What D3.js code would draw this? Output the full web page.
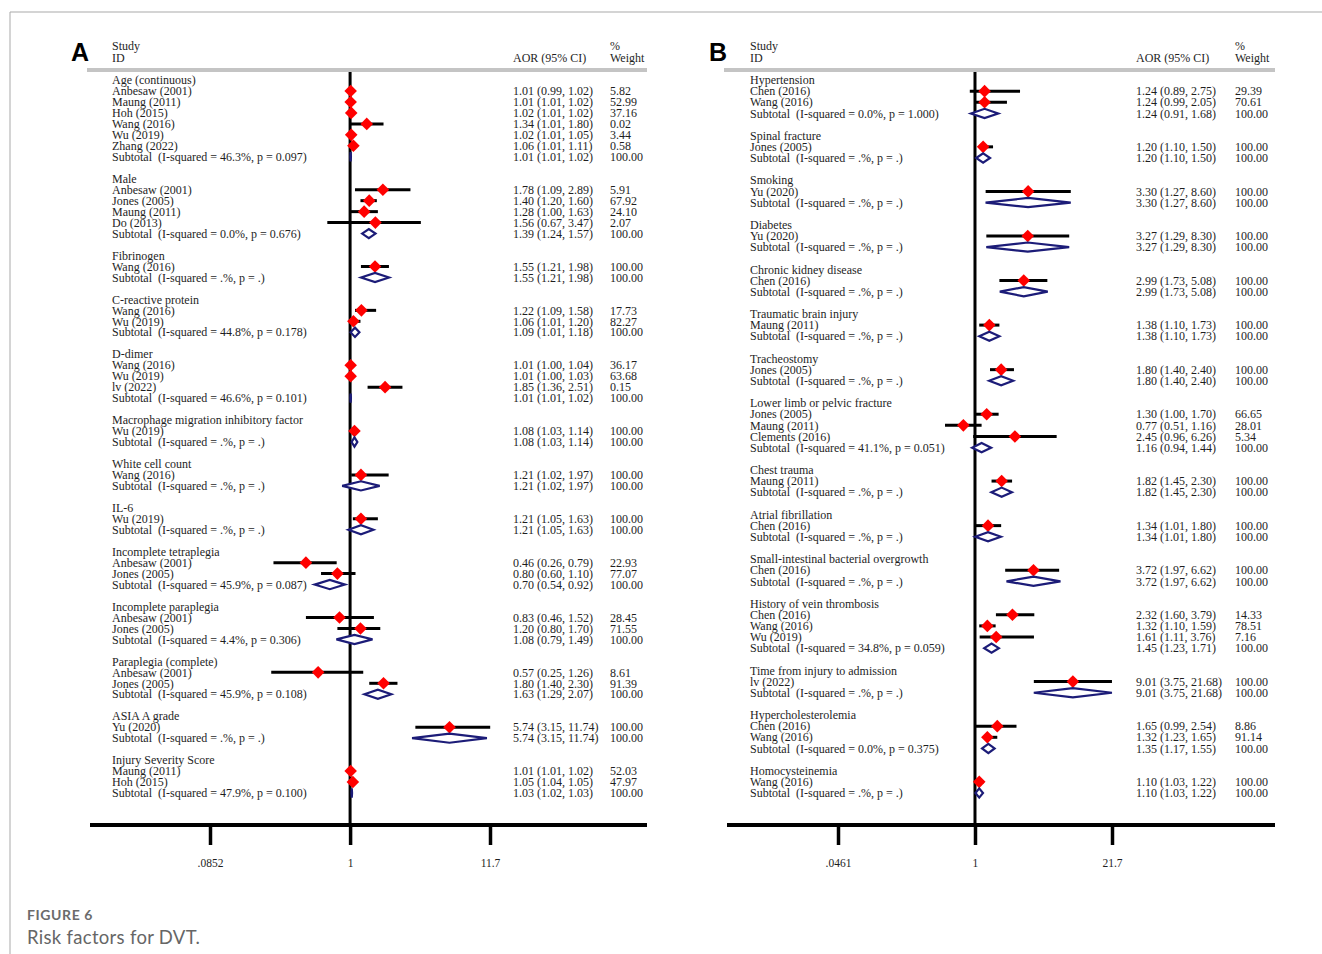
<!DOCTYPE html>
<html>
<head>
<meta charset="utf-8">
<script src="https://cdn.jsdelivr.net/npm/d3@7"></script>
<style>
  body { margin: 0; background: #fff; }
  svg text { white-space: pre; }
</style>
</head>
<body>
<div id="chart"></div>
<script>
// ---- panel A data ----
var groupsA = ["Age (continuous)", "Male", "Fibrinogen", "C-reactive protein", "D-dimer",
  "Macrophage migration inhibitory factor", "White cell count", "IL-6", "Incomplete tetraplegia",
  "Incomplete paraplegia", "Paraplegia (complete)", "ASIA A grade", "Injury Severity Score"];

// [study, AOR, lower, upper, weight]
var studiesA = [
  [["Anbesaw (2001)", 1.01, 0.99, 1.02, "5.82"], ["Maung (2011)", 1.01, 1.01, 1.02, "52.99"],
   ["Hoh (2015)", 1.02, 1.01, 1.02, "37.16"], ["Wang (2016)", 1.34, 1.01, 1.80, "0.02"],
   ["Wu (2019)", 1.02, 1.01, 1.05, "3.44"], ["Zhang (2022)", 1.06, 1.01, 1.11, "0.58"]],
  [["Anbesaw (2001)", 1.78, 1.09, 2.89, "5.91"], ["Jones (2005)", 1.40, 1.20, 1.60, "67.92"],
   ["Maung (2011)", 1.28, 1.00, 1.63, "24.10"], ["Do (2013)", 1.56, 0.67, 3.47, "2.07"]],
  [["Wang (2016)", 1.55, 1.21, 1.98, "100.00"]],
  [["Wang (2016)", 1.22, 1.09, 1.58, "17.73"], ["Wu (2019)", 1.06, 1.01, 1.20, "82.27"]],
  [["Wang (2016)", 1.01, 1.00, 1.04, "36.17"], ["Wu (2019)", 1.01, 1.00, 1.03, "63.68"],
   ["lv (2022)", 1.85, 1.36, 2.51, "0.15"]],
  [["Wu (2019)", 1.08, 1.03, 1.14, "100.00"]],
  [["Wang (2016)", 1.21, 1.02, 1.97, "100.00"]],
  [["Wu (2019)", 1.21, 1.05, 1.63, "100.00"]],
  [["Anbesaw (2001)", 0.46, 0.26, 0.79, "22.93"], ["Jones (2005)", 0.80, 0.60, 1.10, "77.07"]],
  [["Anbesaw (2001)", 0.83, 0.46, 1.52, "28.45"], ["Jones (2005)", 1.20, 0.80, 1.70, "71.55"]],
  [["Anbesaw (2001)", 0.57, 0.25, 1.26, "8.61"], ["Jones (2005)", 1.80, 1.40, 2.30, "91.39"]],
  [["Yu (2020)", 5.74, 3.15, 11.74, "100.00"]],
  [["Maung (2011)", 1.01, 1.01, 1.02, "52.03"], ["Hoh (2015)", 1.05, 1.04, 1.05, "47.97"]]
];

// [heterogeneity, AOR, lower, upper]
var subtotalsA = [
  ["46.3%, p = 0.097", 1.01, 1.01, 1.02],
  ["0.0%, p = 0.676", 1.39, 1.24, 1.57],
  [".%, p = .", 1.55, 1.21, 1.98],
  ["44.8%, p = 0.178", 1.09, 1.01, 1.18],
  ["46.6%, p = 0.101", 1.01, 1.01, 1.02],
  [".%, p = .", 1.08, 1.03, 1.14],
  [".%, p = .", 1.21, 1.02, 1.97],
  [".%, p = .", 1.21, 1.05, 1.63],
  ["45.9%, p = 0.087", 0.70, 0.54, 0.92],
  ["4.4%, p = 0.306", 1.08, 0.79, 1.49],
  ["45.9%, p = 0.108", 1.63, 1.29, 2.07],
  [".%, p = .", 5.74, 3.15, 11.74],
  ["47.9%, p = 0.100", 1.03, 1.02, 1.03]
];

var tickValuesA = [0.0852, 1, 11.7];
var tickLabelsA = [".0852", "1", "11.7"];

// ---- panel B data ----
var groupsB = ["Hypertension", "Spinal fracture", "Smoking", "Diabetes", "Chronic kidney disease",
  "Traumatic brain injury", "Tracheostomy", "Lower limb or pelvic fracture", "Chest trauma",
  "Atrial fibrillation", "Small-intestinal bacterial overgrowth", "History of vein thrombosis",
  "Time from injury to admission", "Hypercholesterolemia", "Homocysteinemia"];

var studiesB = [
  [["Chen (2016)", 1.24, 0.89, 2.75, "29.39"], ["Wang (2016)", 1.24, 0.99, 2.05, "70.61"]],
  [["Jones (2005)", 1.20, 1.10, 1.50, "100.00"]],
  [["Yu (2020)", 3.30, 1.27, 8.60, "100.00"]],
  [["Yu (2020)", 3.27, 1.29, 8.30, "100.00"]],
  [["Chen (2016)", 2.99, 1.73, 5.08, "100.00"]],
  [["Maung (2011)", 1.38, 1.10, 1.73, "100.00"]],
  [["Jones (2005)", 1.80, 1.40, 2.40, "100.00"]],
  [["Jones (2005)", 1.30, 1.00, 1.70, "66.65"], ["Maung (2011)", 0.77, 0.51, 1.16, "28.01"],
   ["Clements (2016)", 2.45, 0.96, 6.26, "5.34"]],
  [["Maung (2011)", 1.82, 1.45, 2.30, "100.00"]],
  [["Chen (2016)", 1.34, 1.01, 1.80, "100.00"]],
  [["Chen (2016)", 3.72, 1.97, 6.62, "100.00"]],
  [["Chen (2016)", 2.32, 1.60, 3.79, "14.33"], ["Wang (2016)", 1.32, 1.10, 1.59, "78.51"],
   ["Wu (2019)", 1.61, 1.11, 3.76, "7.16"]],
  [["lv (2022)", 9.01, 3.75, 21.68, "100.00"]],
  [["Chen (2016)", 1.65, 0.99, 2.54, "8.86"], ["Wang (2016)", 1.32, 1.23, 1.65, "91.14"]],
  [["Wang (2016)", 1.10, 1.03, 1.22, "100.00"]]
];

var subtotalsB = [
  ["0.0%, p = 1.000", 1.24, 0.91, 1.68],
  [".%, p = .", 1.20, 1.10, 1.50],
  [".%, p = .", 3.30, 1.27, 8.60],
  [".%, p = .", 3.27, 1.29, 8.30],
  [".%, p = .", 2.99, 1.73, 5.08],
  [".%, p = .", 1.38, 1.10, 1.73],
  [".%, p = .", 1.80, 1.40, 2.40],
  ["41.1%, p = 0.051", 1.16, 0.94, 1.44],
  [".%, p = .", 1.82, 1.45, 2.30],
  [".%, p = .", 1.34, 1.01, 1.80],
  [".%, p = .", 3.72, 1.97, 6.62],
  ["34.8%, p = 0.059", 1.45, 1.23, 1.71],
  [".%, p = .", 9.01, 3.75, 21.68],
  ["0.0%, p = 0.375", 1.35, 1.17, 1.55],
  [".%, p = .", 1.10, 1.03, 1.22]
];

var tickValuesB = [0.0461, 1, 21.7];
var tickLabelsB = [".0461", "1", "21.7"];

var width = 1322, height = 954;
var serif = "'Liberation Serif', 'Times New Roman', serif";
var textColor = "#1e1e1e";

var svg = d3.select("#chart").append("svg")
  .attr("width", width)
  .attr("height", height);

// frame
svg.append("line").attr("x1", 10).attr("y1", 12).attr("x2", width).attr("y2", 12)
  .attr("stroke", "#a9a9a9").attr("stroke-width", 1);
svg.append("line").attr("x1", 10).attr("y1", 12).attr("x2", 10).attr("y2", height)
  .attr("stroke", "#a9a9a9").attr("stroke-width", 1);

function fmt(v) { return v.toFixed(2); }

function drawPanel(p) {
  var g = svg.append("g");

  // build rows
  var rows = [], r = 0;
  p.groups.forEach(function(name, gi) {
    rows.push({type: "head", text: name, r: r++});
    p.studies[gi].forEach(function(s) {
      rows.push({type: "study", text: s[0], or: s[1], lo: s[2], hi: s[3], w: s[4], r: r++});
    });
    var sb = p.subs[gi];
    rows.push({type: "sub", text: "Subtotal  (I-squared = " + sb[0] + ")", or: sb[1], lo: sb[2], hi: sb[3], w: "100.00", r: r++});
    r++;
  });
  var lastRow = r - 2;

  var x = d3.scaleLog().domain([p.ticks[0], p.ticks[2]]).range(p.tickRange);
  var y = d3.scaleLinear().domain([0, lastRow]).range([80, 793]);

  // panel letter
  g.append("text").attr("x", p.letterX).attr("y", 61)
    .attr("font-family", "Arial, 'Liberation Sans', sans-serif").attr("font-weight", "bold")
    .attr("font-size", 25).attr("fill", "#000").text(p.letter);

  // header
  var hdr = g.append("g").attr("font-family", serif).attr("font-size", 12).attr("fill", textColor);
  hdr.append("text").attr("x", p.textX).attr("y", 50).text("Study");
  hdr.append("text").attr("x", p.textX).attr("y", 62).text("ID");
  hdr.append("text").attr("x", p.ciX).attr("y", 62).text("AOR (95% CI)");
  hdr.append("text").attr("x", p.wX).attr("y", 50).text("%");
  hdr.append("text").attr("x", p.wX).attr("y", 62).text("Weight");

  g.append("line").attr("x1", p.lineX0).attr("x2", p.lineX1).attr("y1", 70).attr("y2", 70)
    .attr("stroke", "#c4c4c4").attr("stroke-width", 4);

  // null line
  g.append("line").attr("x1", x(1)).attr("x2", x(1)).attr("y1", 72).attr("y2", 825)
    .attr("stroke", "#000").attr("stroke-width", 3);

  // axis line + ticks
  g.append("line").attr("x1", p.lineX0 + 3).attr("x2", p.lineX1).attr("y1", 825).attr("y2", 825)
    .attr("stroke", "#000").attr("stroke-width", 4);

  var axis = g.append("g").attr("transform", "translate(0,826)")
    .call(d3.axisBottom(x).tickValues(p.ticks)
      .tickFormat(function(d, i) { return p.tickLabels[i]; })
      .tickSize(19).tickPadding(14));
  axis.select(".domain").remove();
  axis.selectAll(".tick line").attr("stroke", "#000").attr("stroke-width", 3.5);
  axis.selectAll(".tick text").attr("font-family", serif).attr("font-size", 11.5)
    .attr("fill", textColor);

  // row texts
  var txt = g.append("g").attr("font-family", serif).attr("font-size", 12).attr("fill", textColor);
  txt.selectAll(".lab").data(rows).enter().append("text")
    .attr("x", p.textX).attr("y", function(d) { return y(d.r); }).attr("dy", "0.35em")
    .text(function(d) { return d.text; });
  var valRows = rows.filter(function(d) { return d.type !== "head"; });
  txt.selectAll(".ci").data(valRows).enter().append("text")
    .attr("x", p.ciX).attr("y", function(d) { return y(d.r); }).attr("dy", "0.35em")
    .text(function(d) { return fmt(d.or) + " (" + fmt(d.lo) + ", " + fmt(d.hi) + ")"; });
  txt.selectAll(".wt").data(valRows).enter().append("text")
    .attr("x", p.wX).attr("y", function(d) { return y(d.r); }).attr("dy", "0.35em")
    .text(function(d) { return d.w; });

  // study CIs and markers
  var studyRows = rows.filter(function(d) { return d.type === "study"; });
  g.selectAll(".cil").data(studyRows).enter().append("line")
    .attr("x1", function(d) { return x(d.lo); }).attr("x2", function(d) { return x(d.hi); })
    .attr("y1", function(d) { return y(d.r); }).attr("y2", function(d) { return y(d.r); })
    .attr("stroke", "#000").attr("stroke-width", 3);
  var m = 6.3;
  g.selectAll(".pt").data(studyRows).enter().append("path")
    .attr("d", function(d) {
      var cx = x(d.or), cy = y(d.r);
      return "M" + (cx - m) + "," + cy + "L" + cx + "," + (cy - m) + "L" + (cx + m) + "," + cy + "L" + cx + "," + (cy + m) + "Z";
    })
    .attr("fill", "#ff0000");

  // subtotal diamonds (symmetric on the log scale)
  var subRows = rows.filter(function(d) { return d.type === "sub"; });
  g.selectAll(".dm").data(subRows).enter().append("path")
    .attr("d", function(d) {
      var half = (Math.log(d.hi) - Math.log(d.lo)) / 2;
      var l = x(Math.exp(Math.log(d.or) - half)), rr = x(Math.exp(Math.log(d.or) + half));
      var cx = x(d.or), cy = y(d.r), h = 4.6;
      return "M" + l + "," + cy + "L" + cx + "," + (cy - h) + "L" + rr + "," + cy + "L" + cx + "," + (cy + h) + "Z";
    })
    .attr("fill", "#fff").attr("stroke", "#1c1c78").attr("stroke-width", 2.2);
}

drawPanel({
  groups: groupsA, studies: studiesA, subs: subtotalsA,
  ticks: tickValuesA, tickLabels: tickLabelsA, tickRange: [210, 490],
  letter: "A", letterX: 71, textX: 112, ciX: 513, wX: 610, lineX0: 87, lineX1: 647
});

drawPanel({
  groups: groupsB, studies: studiesB, subs: subtotalsB,
  ticks: tickValuesB, tickLabels: tickLabelsB, tickRange: [838, 1112],
  letter: "B", letterX: 709, textX: 750, ciX: 1136, wX: 1235, lineX0: 724, lineX1: 1275
});

// caption
svg.append("text").attr("x", 27).attr("y", 920)
  .attr("font-family", "Lato, 'Open Sans', sans-serif").attr("font-weight", "bold")
  .attr("font-size", 14).attr("letter-spacing", 0.6).attr("fill", "#6b6b6b").text("FIGURE 6");
svg.append("text").attr("x", 27).attr("y", 944)
  .attr("font-family", "Lato, 'Open Sans', sans-serif")
  .attr("font-size", 18.5).attr("letter-spacing", 0.3).attr("fill", "#666").text("Risk factors for DVT.");
</script>
</body>
</html>
